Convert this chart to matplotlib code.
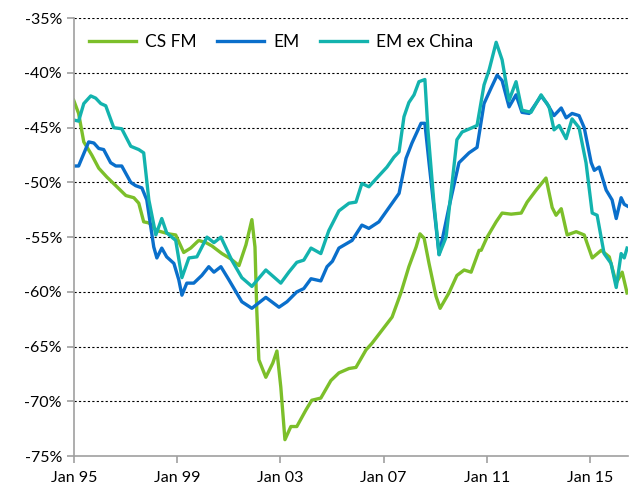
import matplotlib.pyplot as plt
from matplotlib.ticker import FuncFormatter

# Decimal years and values (%) for each series
cs_fm_t = [1995.00, 1995.19, 1995.39, 1995.70, 1995.97, 1996.28, 1996.63, 1997.02, 1997.33, 1997.52,
           1997.71, 1997.91, 1998.22, 1998.68, 1998.95, 1999.26, 1999.53, 1999.84, 2000.12, 2000.35,
           2000.74, 2001.09, 2001.40, 2001.67, 2001.90, 2002.02, 2002.09, 2002.17, 2002.44, 2002.71,
           2002.87, 2003.02, 2003.18, 2003.41, 2003.64, 2003.99, 2004.22, 2004.57, 2004.96, 2005.27,
           2005.66, 2005.93, 2006.32, 2006.55, 2006.94, 2007.33, 2007.67, 2007.98, 2008.26, 2008.41,
           2008.57, 2008.76, 2009.03, 2009.19, 2009.53, 2009.84, 2010.12, 2010.39, 2010.70, 2010.78,
           2011.01, 2011.36, 2011.59, 2011.94, 2012.33, 2012.56, 2012.91, 2013.29, 2013.53, 2013.68,
           2013.88, 2014.11, 2014.46, 2014.77, 2015.08, 2015.43, 2015.74, 2016.01, 2016.24, 2016.43]
cs_fm_v = [-42.5, -43.7, -46.3, -47.5, -48.7, -49.5, -50.3, -51.2, -51.4, -51.9,
           -53.6, -53.7, -54.4, -54.7, -54.8, -56.4, -56.0, -55.3, -55.5, -55.8,
           -56.5, -57.0, -57.6, -55.7, -53.4, -55.9, -61.7, -66.2, -67.8, -66.5,
           -65.4, -68.7, -73.5, -72.3, -72.3, -70.8, -69.9, -69.7, -68.1, -67.4,
           -67.0, -66.9, -65.3, -64.7, -63.5, -62.3, -60.1, -57.7, -55.9, -54.7,
           -55.1, -57.4, -60.4, -61.5, -60.1, -58.5, -58.0, -58.2, -56.2, -56.2,
           -55.0, -53.6, -52.8, -52.9, -52.8, -51.8, -50.7, -49.6, -52.3, -53.0,
           -52.4, -54.8, -54.5, -54.8, -56.9, -56.2, -56.8, -59.2, -58.2, -60.1]

em_t = [1995.00, 1995.19, 1995.58, 1995.78, 1995.97, 1996.16, 1996.43, 1996.63, 1996.86, 1997.21,
        1997.40, 1997.64, 1997.83, 1998.10, 1998.22, 1998.41, 1998.60, 1998.88, 1999.07, 1999.19,
        1999.38, 1999.65, 1999.96, 2000.23, 2000.43, 2000.70, 2001.01, 2001.51, 2001.90, 2002.44,
        2002.95, 2003.26, 2003.64, 2003.91, 2004.19, 2004.57, 2004.81, 2005.02, 2005.27, 2005.78,
        2006.16, 2006.43, 2006.82, 2007.21, 2007.60, 2007.87, 2008.10, 2008.45, 2008.60, 2008.76,
        2009.15, 2009.53, 2009.92, 2010.31, 2010.62, 2010.89, 2011.16, 2011.40, 2011.59, 2011.86,
        2012.13, 2012.36, 2012.64, 2013.10, 2013.33, 2013.60, 2013.88, 2014.07, 2014.30, 2014.57,
        2014.77, 2015.04, 2015.16, 2015.35, 2015.62, 2015.85, 2016.01, 2016.20, 2016.32, 2016.47]
em_v = [-48.5, -48.5, -46.3, -46.4, -46.9, -47.0, -48.2, -48.5, -48.5, -50.0,
        -50.3, -50.5, -51.6, -55.9, -56.9, -56.0, -56.8, -57.4, -58.9, -60.3,
        -59.2, -59.2, -58.5, -57.7, -58.2, -57.7, -58.9, -60.9, -61.5, -60.5,
        -61.4, -60.9, -60.0, -59.7, -58.8, -59.0, -57.7, -57.2, -56.0, -55.3,
        -53.9, -54.2, -53.6, -52.3, -51.0, -47.8, -46.4, -44.6, -44.6, -48.2,
        -56.6, -52.3, -48.2, -47.3, -46.8, -42.8, -41.4, -40.2, -40.7, -43.1,
        -42.0, -43.6, -43.7, -42.1, -42.8, -43.9, -43.2, -44.1, -43.7, -43.9,
        -45.0, -48.2, -48.9, -48.6, -50.7, -51.6, -53.3, -51.4, -52.0, -52.2]

em_ex_china_t = [1995.00, 1995.19, 1995.39, 1995.66, 1995.85, 1996.05, 1996.24, 1996.55, 1996.86, 1997.21,
                 1997.52, 1997.71, 1997.91, 1998.18, 1998.41, 1998.60, 1998.95, 1999.19, 1999.46, 1999.77,
                 2000.16, 2000.43, 2000.70, 2001.12, 2001.51, 2001.90, 2002.44, 2003.02, 2003.33, 2003.64,
                 2003.91, 2004.19, 2004.57, 2004.88, 2005.27, 2005.66, 2005.93, 2006.16, 2006.43, 2006.74,
                 2007.13, 2007.40, 2007.60, 2007.79, 2007.98, 2008.18, 2008.37, 2008.60, 2008.72, 2008.95,
                 2009.15, 2009.42, 2009.84, 2010.04, 2010.43, 2010.62, 2010.89, 2011.09, 2011.36, 2011.59,
                 2011.86, 2012.13, 2012.36, 2012.71, 2013.10, 2013.41, 2013.60, 2013.80, 2014.07, 2014.30,
                 2014.57, 2014.84, 2015.08, 2015.27, 2015.54, 2015.81, 2016.01, 2016.20, 2016.32, 2016.43]
em_ex_china_v = [-44.3, -44.4, -42.8, -42.1, -42.3, -42.8, -43.0, -45.0, -45.1, -46.7,
                 -47.0, -47.3, -51.6, -54.8, -53.3, -54.6, -55.3, -58.7, -56.9, -56.8,
                 -55.0, -55.5, -55.0, -57.1, -58.7, -59.5, -58.0, -59.2, -58.2, -57.3,
                 -57.1, -56.0, -56.5, -54.4, -52.6, -51.9, -51.8, -50.1, -50.4, -49.6,
                 -48.6, -47.7, -47.2, -44.0, -42.7, -42.0, -40.8, -40.6, -45.3, -51.9,
                 -56.6, -55.0, -46.1, -45.4, -45.0, -44.8, -41.1, -39.7, -37.2, -38.8,
                 -42.5, -40.8, -43.4, -43.6, -42.0, -43.1, -45.2, -44.8, -46.0, -44.2,
                 -45.0, -48.2, -52.8, -53.0, -56.5, -57.4, -59.6, -56.5, -56.9, -56.0]

tick_years = [1995, 1999, 2003, 2007, 2011, 2015]
tick_labels = ["Jan 95", "Jan 99", "Jan 03", "Jan 07", "Jan 11", "Jan 15"]
y_ticks = [-75, -70, -65, -60, -55, -50, -45, -40, -35]

plt.rcParams['font.family'] = ['Lato', 'DejaVu Sans']

fig = plt.figure(figsize=(6.3, 4.92), dpi=100)
ax = fig.add_axes([0.117, 0.073, 0.88, 0.89])

ax.plot(cs_fm_t, cs_fm_v, color="#7CBF2A", lw=2.4, label="CS FM", solid_joinstyle="round")
ax.plot(em_t, em_v, color="#0A6FCB", lw=2.4, label="EM", solid_joinstyle="round")
ax.plot(em_ex_china_t, em_ex_china_v, color="#13B3AE", lw=2.4, label="EM ex China", solid_joinstyle="round")

ax.set_xlim(1995, 2016.47)
ax.set_ylim(-75, -35)
ax.set_yticks(y_ticks)
ax.yaxis.set_major_formatter(FuncFormatter(lambda v, p: f"{v:.0f}%"))
ax.set_xticks(tick_years)
ax.set_xticklabels(tick_labels)

for y in y_ticks[1:]:
    ax.axhline(y, color="black", lw=0.8, ls=(0, (2, 2)), zorder=0)

for side in ["top", "right"]:
    ax.spines[side].set_visible(False)
for side in ["left", "bottom"]:
    ax.spines[side].set_color("#a0a0a0")
    ax.spines[side].set_linewidth(1.2)
ax.tick_params(axis="both", direction="out", length=5, width=1.2, color="#a0a0a0",
               labelsize=11.5, labelcolor="black")
ax.tick_params(axis="x", pad=6)

ax.legend(loc="upper left", bbox_to_anchor=(0.0, 1.0), ncol=3, frameon=False,
          fontsize=12.5, handlelength=2.7, handletextpad=0.5, columnspacing=1.2)

plt.savefig("out.png", dpi=100, facecolor="white")
